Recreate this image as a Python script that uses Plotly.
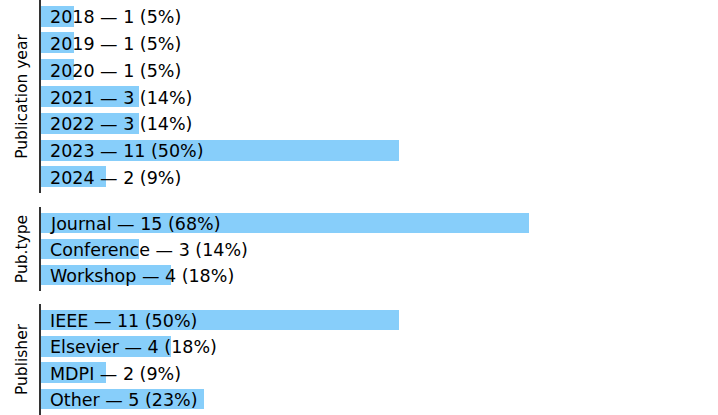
import plotly.graph_objects as go

years = ["2018", "2019", "2020", "2021", "2022", "2023", "2024"]
year_counts = [1, 1, 1, 3, 3, 11, 2]

pub_types = ["Journal", "Conference", "Workshop"]
type_counts = [15, 3, 4]

publishers = ["IEEE", "Elsevier", "MDPI", "Other"]
publisher_counts = [11, 4, 2, 5]

panels = [
    ("Publication year", years, year_counts, [0.5349, 1.0]),
    ("Pub.type", pub_types, type_counts, [0.2988, 0.5012]),
    ("Publisher", publishers, publisher_counts, [0.0, 0.2675]),
]

BAR_COLOR = "#87CEFA"
FONT = "DejaVu Sans"

fig = go.Figure()
annotations = []

for i, (title, cats, counts, dom) in enumerate(panels):
    n = i + 1
    xa = "x" if n == 1 else f"x{n}"
    ya = "y" if n == 1 else f"y{n}"
    total = sum(counts)
    labels = [f"{c} \u2014 {v} ({round(100 * v / total)}%)" for c, v in zip(cats, counts)]

    fig.add_trace(go.Bar(
        x=counts, y=list(range(len(cats))), orientation="h",
        marker=dict(color=BAR_COLOR, line_width=0), width=0.78,
        xaxis=xa, yaxis=ya, showlegend=False, hoverinfo="skip",
    ))

    for k, lab in enumerate(labels):
        annotations.append(dict(
            x=0, y=k, xref=xa, yref=ya, text=lab, showarrow=False,
            xanchor="left", yanchor="middle", xshift=7, yshift=-1,
            font=dict(family=FONT, size=17.5, color="black"),
        ))

    xkey = "xaxis" if n == 1 else f"xaxis{n}"
    ykey = "yaxis" if n == 1 else f"yaxis{n}"
    fig.update_layout({
        xkey: dict(domain=[0, 1], range=[0, 20], anchor=ya, visible=False,
                   fixedrange=True, automargin=False),
        ykey: dict(domain=dom, anchor=xa, range=[len(cats) - 0.4, -0.6],
                   showticklabels=False, ticks="", showgrid=False,
                   zeroline=False, showline=True, linecolor="#333333",
                   linewidth=1.5, automargin=False,
                   title=dict(text=title, standoff=8,
                              font=dict(family=FONT, size=15.5, color="black"))),
    })

fig.update_layout(
    width=718, height=415,
    margin=dict(l=41, r=27, t=0, b=0, pad=0),
    plot_bgcolor="white", paper_bgcolor="white",
    bargap=0, annotations=annotations,
    font=dict(family=FONT),
)

# page body has a default 8px margin; drop it so the figure sits at 0,0
fig.write_html("out.html", config={"displayModeBar": False},
               post_script="document.body.style.margin='0';")
